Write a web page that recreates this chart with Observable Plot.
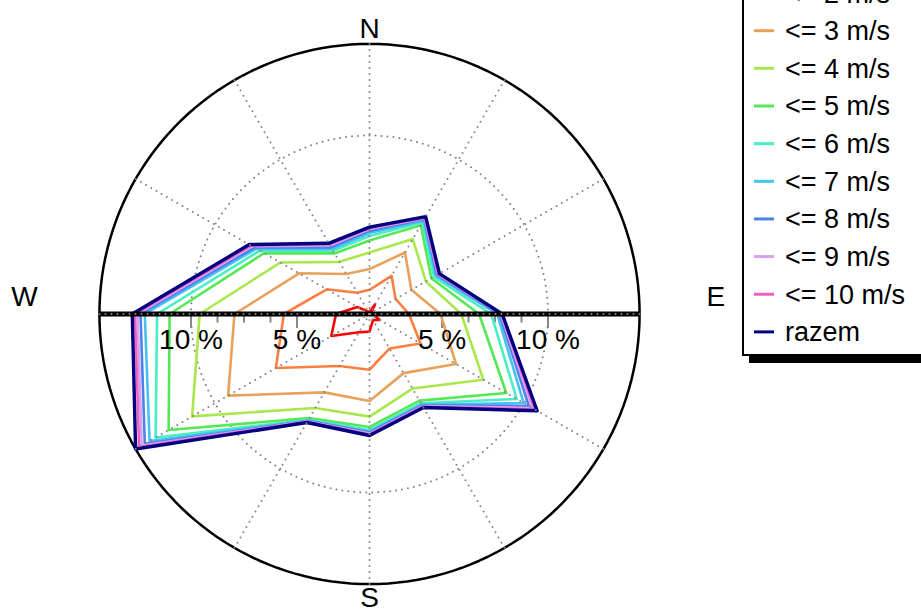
<!DOCTYPE html>
<html>
<head>
<meta charset="utf-8">
<script src="https://cdn.jsdelivr.net/npm/d3@7"></script>
<script src="https://cdn.jsdelivr.net/npm/@observablehq/plot@0.6"></script>
<style>
html, body { margin: 0; padding: 0; background: #fff; overflow: hidden; width: 921px; height: 610px; }
#chart { position: absolute; left: 0; top: 0; }
#legend { position: absolute; left: 0; top: 0; pointer-events: none; }
</style>
</head>
<body>
<div id="chart"></div>
<svg id="legend" width="921" height="610"></svg>
<script>
// ---------------- data ----------------
const angles = [0, 30, 60, 90, 120, 150, 180, 210, 240, 270, 300, 330];
const compass = ["N", "E", "S", "W"];
const compassAngles = [0, 90, 180, 270];
const seriesNames = ["<= 1 m/s", "<= 2 m/s", "<= 3 m/s", "<= 4 m/s", "<= 5 m/s",
  "<= 6 m/s", "<= 7 m/s", "<= 8 m/s", "<= 9 m/s", "<= 10 m/s", "razem"];
// cumulative frequency (%) by direction N,30,60,E,120,150,S,210,240,W,300,330
const le1  = [1.67, 2.10, 1.67, 1.72, 2.15, 1.91, 2.41, 2.57, 3.66, 3.16, 2.24, 1.72];
const le2  = [2.72, 3.66, 3.00, 3.44, 4.36, 3.46, 4.21, 4.41, 6.68, 5.62, 3.91, 2.74];
const le3  = [3.70, 4.93, 3.86, 4.93, 6.29, 4.80, 5.68, 5.85, 9.28, 7.95, 5.42, 3.76];
const le4  = [4.48, 5.66, 4.65, 5.91, 7.78, 5.64, 6.42, 6.70, 11.24, 9.59, 6.44, 4.42];
const le5  = [5.05, 6.42, 4.95, 6.75, 9.03, 6.30, 6.91, 7.25, 12.52, 11.01, 7.32, 4.88];
const le6  = [5.26, 6.58, 5.09, 7.32, 9.60, 6.44, 7.05, 7.34, 13.23, 11.60, 7.56, 5.02];
const le7  = [5.40, 6.67, 5.19, 7.60, 9.98, 6.51, 7.12, 7.38, 13.56, 12.18, 7.74, 5.12];
const le8  = [5.50, 6.75, 5.26, 7.71, 10.26, 6.56, 7.17, 7.41, 13.82, 12.38, 7.85, 5.21];
const le9  = [5.59, 6.79, 5.31, 7.78, 10.45, 6.60, 7.22, 7.43, 13.99, 12.52, 7.97, 5.31];
const le10 = [5.64, 6.84, 5.33, 7.81, 10.59, 6.63, 7.26, 7.45, 14.13, 12.64, 8.04, 5.38];
const razem = [5.68, 6.88, 5.39, 7.84, 10.71, 6.67, 7.31, 7.49, 14.32, 12.77, 8.13, 5.43];
const tickValues = [5, 6.25, 7.5, 8.75, 10];
const tickLabelValues = [5, 10];
const gridValues = [10];

// ---------------- styles / layout ----------------
const colors = ["#ff0000", "#ff7f40", "#e8a05a", "#a8e84c", "#55e855",
  "#48eec5", "#45c2ee", "#4c80ec", "#d8a0f4", "#f060c0", "#000080"];
const W = 921, H = 610, cx = 369, cy = 313.5, k = 21.2; // px per %
const r0 = 1.58; // value at the centre of the rose
const font = "'Liberation Sans', Arial, Helvetica, sans-serif";

const seriesValues = [le1, le2, le3, le4, le5, le6, le7, le8, le9, le10, razem];
const rows = seriesNames.flatMap((name, i) =>
  angles.map((a, j) => ({series: name, angle: a, value: seriesValues[i][j]})));
const rad = a => a * Math.PI / 180;
const X = (v, a) => (v - r0) * Math.sin(rad(a));
const Y = (v, a) => (v - r0) * Math.cos(rad(a));
const vMax = d3.max(razem);
const rhoMax = vMax - r0;
const ring = v => d3.range(0, 361, 2).map(a => ({v, a}));
const ticks = [-1, 1].flatMap(s => tickValues.map(v => ({s, v, major: tickLabelValues.includes(v)})));
const tickLabels = [-1, 1].flatMap(s => tickLabelValues.map(v => ({s, v})));
const compassRows = compass.map((c, i) => ({label: c, angle: compassAngles[i]}));

const chart = Plot.plot({
  width: W, height: H, margin: 0,
  style: {background: "#fff", fontFamily: font, overflow: "visible"},
  x: {domain: [-cx / k, (W - cx) / k], axis: null},
  y: {domain: [-(H - cy) / k, cy / k], axis: null},
  color: {domain: seriesNames, range: colors},
  marks: [
    // outer circle
    Plot.line(ring(vMax), {x: d => X(d.v, d.a), y: d => Y(d.v, d.a), stroke: "#000", strokeWidth: 2.5}),
    // dotted grid circle
    ...gridValues.map(g => Plot.line(ring(g), {x: d => X(d.v, d.a), y: d => Y(d.v, d.a),
      stroke: "#808080", strokeWidth: 2, strokeDasharray: "0 6", strokeLinecap: "round"})),
    // radial ticks
    Plot.link(ticks, {x1: d => d.s * (d.v - r0), x2: d => d.s * (d.v - r0),
      y1: () => 0, y2: d => -(d.major ? 14 : 8.5) / k, stroke: "#888", strokeWidth: 2}),
    // polygons
    Plot.line(rows.filter(d => d.series !== "razem"), {x: d => X(d.value, d.angle), y: d => Y(d.value, d.angle),
      z: "series", stroke: "series", curve: "linear-closed", strokeWidth: 2.6}),
    Plot.line(rows.filter(d => d.series === "razem"), {x: d => X(d.value, d.angle), y: d => Y(d.value, d.angle),
      z: "series", stroke: "series", curve: "linear-closed", strokeWidth: 3.4}),
    // W-E axis band
    Plot.link([0], {x1: () => -rhoMax, x2: () => rhoMax, y1: () => 0, y2: () => 0, stroke: "#000", strokeWidth: 5}),
    // dotted spokes
    Plot.link(angles, {x1: () => 0, y1: () => 0, x2: a => X(vMax, a), y2: a => Y(vMax, a),
      stroke: "#858585", strokeWidth: 2, strokeDasharray: "0 6", strokeLinecap: "round"}),
    // tick labels
    Plot.text(tickLabels, {x: d => d.s * (d.v - r0), y: () => 0, dy: 26, text: d => `${d.v} %`,
      fontSize: 28, fill: "#000", textAnchor: "middle"}),
    // compass labels
    Plot.text(compassRows, {
      x: d => d.angle === 90 ? 16.34 : d.angle === 270 ? -16.27 : 0,
      y: d => d.angle === 0 ? 13.45 : d.angle === 180 ? -13.40 : 0.78,
      text: "label", fontSize: 28, fill: "#000", textAnchor: "middle"})
  ]
});
document.getElementById("chart").appendChild(chart);

// ---------------- legend ----------------
const lg = d3.select("#legend");
const rowY = i => 30.7 + 37.65 * (i - 2);
const boxX = 742, boxTop = -80, boxBottom = 356, boxW = 320;
lg.append("rect").attr("x", boxX + 7).attr("y", boxTop + 7).attr("width", boxW).attr("height", boxBottom - boxTop).attr("fill", "#000");
lg.append("rect").attr("x", boxX + 1).attr("y", boxTop + 1).attr("width", boxW).attr("height", boxBottom - boxTop - 2)
  .attr("fill", "#fff").attr("stroke", "#000").attr("stroke-width", 2);
const items = lg.selectAll("g.item").data(seriesNames).join("g").attr("class", "item");
items.append("line").attr("x1", 754).attr("x2", 774).attr("y1", (d, i) => rowY(i)).attr("y2", (d, i) => rowY(i))
  .attr("stroke", (d, i) => colors[i]).attr("stroke-width", 3);
items.append("text").attr("x", 785).attr("y", (d, i) => rowY(i)).attr("dy", "0.35em")
  .attr("font-family", font).attr("font-size", 27).attr("fill", "#000").text(d => d);
</script>
</body>
</html>
